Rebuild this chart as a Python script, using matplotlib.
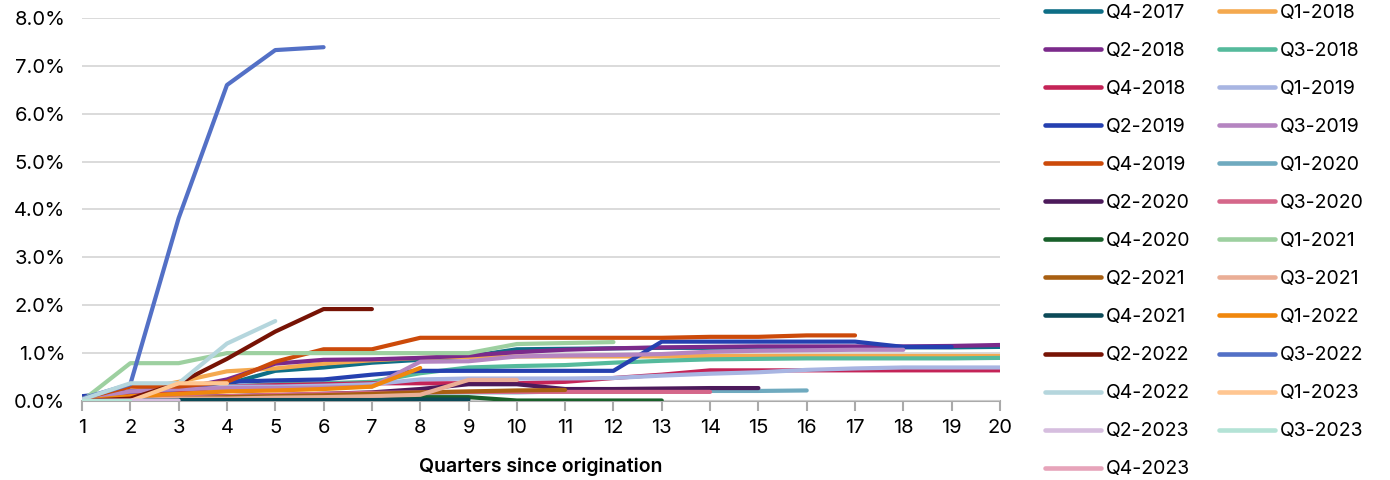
import matplotlib.pyplot as plt
from matplotlib.ticker import PercentFormatter, MultipleLocator

plt.rcParams['font.family'] = ['Inter', 'DejaVu Sans']

cohorts = ["Q4-2017", "Q1-2018", "Q2-2018", "Q3-2018", "Q4-2018", "Q1-2019",
           "Q2-2019", "Q3-2019", "Q4-2019", "Q1-2020", "Q2-2020", "Q3-2020",
           "Q4-2020", "Q1-2021", "Q2-2021", "Q3-2021", "Q4-2021", "Q1-2022",
           "Q2-2022", "Q3-2022", "Q4-2022", "Q1-2023", "Q2-2023", "Q3-2023",
           "Q4-2023"]

colors = ["#0E6E86", "#F4A94F", "#7B2A8B", "#55BA9C", "#C42457", "#A8B5E2",
          "#2540B0", "#B585C1", "#CC4A0A", "#6FAABF", "#4C1A5B", "#D5678A",
          "#18602A", "#9DD0A0", "#A85F12", "#EAAE96", "#0C4A58", "#F0870D",
          "#771305", "#5370C6", "#B5D6DD", "#FFC691", "#D6BEDF", "#B4E3D6",
          "#E7A4BA"]

# cumulative loss rate (%) by quarter since origination
q4_2017 = [0.05, 0.10, 0.15, 0.35, 0.63, 0.70, 0.80, 0.86, 0.93, 1.08, 1.09, 1.10, 1.11, 1.11, 1.12, 1.12, 1.12, 1.12, 1.12, 1.13]
q1_2018 = [0.05, 0.20, 0.40, 0.62, 0.68, 0.78, 0.85, 0.90, 0.92, 0.93, 0.93, 0.93, 0.93, 0.94, 0.94, 0.94, 0.94, 0.94, 0.94, 0.94]
q2_2018 = [0.05, 0.15, 0.25, 0.45, 0.78, 0.86, 0.87, 0.90, 0.95, 1.02, 1.07, 1.10, 1.12, 1.13, 1.14, 1.14, 1.14, 1.14, 1.15, 1.17]
q3_2018 = [0.05, 0.15, 0.25, 0.30, 0.35, 0.37, 0.40, 0.58, 0.70, 0.73, 0.75, 0.80, 0.84, 0.87, 0.88, 0.89, 0.89, 0.89, 0.89, 0.90]
q4_2018 = [0.05, 0.15, 0.20, 0.30, 0.33, 0.35, 0.37, 0.37, 0.37, 0.37, 0.40, 0.48, 0.55, 0.64, 0.64, 0.64, 0.64, 0.64, 0.64, 0.64]
q1_2019 = [0.05, 0.20, 0.25, 0.30, 0.30, 0.32, 0.35, 0.45, 0.47, 0.47, 0.47, 0.48, 0.53, 0.57, 0.60, 0.65, 0.68, 0.70, 0.70, 0.70]
q2_2019 = [0.10, 0.20, 0.25, 0.40, 0.43, 0.45, 0.55, 0.63, 0.63, 0.63, 0.63, 0.63, 1.24, 1.24, 1.24, 1.24, 1.24, 1.13, 1.13]
q3_2019 = [0.05, 0.20, 0.25, 0.27, 0.27, 0.28, 0.30, 0.82, 0.83, 0.93, 0.95, 0.96, 0.98, 1.03, 1.05, 1.06, 1.07, 1.07]
q4_2019 = [0.05, 0.30, 0.30, 0.40, 0.82, 1.08, 1.08, 1.32, 1.32, 1.32, 1.32, 1.32, 1.32, 1.34, 1.34, 1.37, 1.37]
q1_2020 = [0.02, 0.05, 0.08, 0.10, 0.12, 0.13, 0.15, 0.17, 0.18, 0.18, 0.20, 0.20, 0.21, 0.21, 0.21, 0.22]
q2_2020 = [0.02, 0.05, 0.08, 0.10, 0.12, 0.15, 0.18, 0.25, 0.35, 0.35, 0.25, 0.25, 0.26, 0.27, 0.27]
q3_2020 = [0.02, 0.05, 0.08, 0.10, 0.13, 0.15, 0.17, 0.18, 0.19, 0.19, 0.19, 0.19, 0.19, 0.19]
q4_2020 = [0.00, 0.02, 0.03, 0.03, 0.04, 0.05, 0.06, 0.08, 0.08, 0.01, 0.01, 0.01, 0.01]
q1_2021 = [0.00, 0.79, 0.79, 1.00, 1.00, 1.00, 1.00, 1.00, 1.00, 1.19, 1.21, 1.23]
q2_2021 = [0.00, 0.02, 0.05, 0.08, 0.10, 0.12, 0.15, 0.18, 0.20, 0.22, 0.23]
q3_2021 = [0.00, 0.02, 0.05, 0.05, 0.07, 0.08, 0.10, 0.13, 0.44, 0.44]
q4_2021 = [0.00, 0.01, 0.02, 0.02, 0.02, 0.02, 0.02, 0.03, 0.03]
q1_2022 = [0.00, 0.10, 0.15, 0.20, 0.22, 0.25, 0.30, 0.69]
q2_2022 = [0.00, 0.05, 0.37, 0.88, 1.45, 1.92, 1.92]
q3_2022 = [0.05, 0.35, 3.82, 6.60, 7.33, 7.39]
q4_2022 = [0.03, 0.37, 0.37, 1.20, 1.67]
q1_2023 = [0.00, 0.00, 0.37, 0.37]
q2_2023 = [0.00, 0.01, 0.01]
q3_2023 = [0.00, 0.00]
q4_2023 = [0.00]

series = [q4_2017, q1_2018, q2_2018, q3_2018, q4_2018, q1_2019, q2_2019,
          q3_2019, q4_2019, q1_2020, q2_2020, q3_2020, q4_2020, q1_2021,
          q2_2021, q3_2021, q4_2021, q1_2022, q2_2022, q3_2022, q4_2022,
          q1_2023, q2_2023, q3_2023, q4_2023]

fig = plt.figure(figsize=(13.9, 4.8), dpi=100)
ax = fig.add_axes([0.059, 0.1646, 0.6604, 0.7979])

handles = []
for name, vals, c in zip(cohorts, series, colors):
    quarters = list(range(1, len(vals) + 1))
    h, = ax.plot(quarters, vals, color=c, lw=3.0, label=name,
                 solid_capstyle='round', solid_joinstyle='round')
    handles.append(h)

ax.set_xlim(1, 20)
ax.set_ylim(0, 8)
ax.xaxis.set_major_locator(MultipleLocator(1))
ax.yaxis.set_major_locator(MultipleLocator(1))
ax.yaxis.set_major_formatter(PercentFormatter(decimals=1))
ax.grid(axis='y', color='#D4D4D4', lw=1.2)
ax.set_axisbelow(True)
for s in ['top', 'right', 'left']:
    ax.spines[s].set_visible(False)
ax.spines['bottom'].set_color('#AAAAAA')
ax.spines['bottom'].set_linewidth(1.5)
ax.spines['bottom'].set_zorder(0.5)
ax.tick_params(axis='x', colors='#AAAAAA', width=1.5, length=7, labelcolor='black',
               labelsize=14.5, pad=6)
ax.tick_params(axis='y', length=0, labelsize=14.5, pad=12)
ax.set_xlabel("Quarters since origination", fontsize=14, fontweight='semibold', labelpad=15)

# row-major order in a 2-column legend
order = list(range(0, 25, 2)) + list(range(1, 25, 2))
leg = fig.legend([handles[i] for i in order], [cohorts[i] for i in order],
                 loc='upper left', bbox_to_anchor=(0.739, 1.028), ncol=2, frameon=False,
                 fontsize=14, handlelength=2.9, handletextpad=0.26, columnspacing=1.45,
                 labelspacing=1.03)
for line in leg.get_lines():
    line.set_linewidth(3.3)

fig.savefig("out.png", dpi=100)
